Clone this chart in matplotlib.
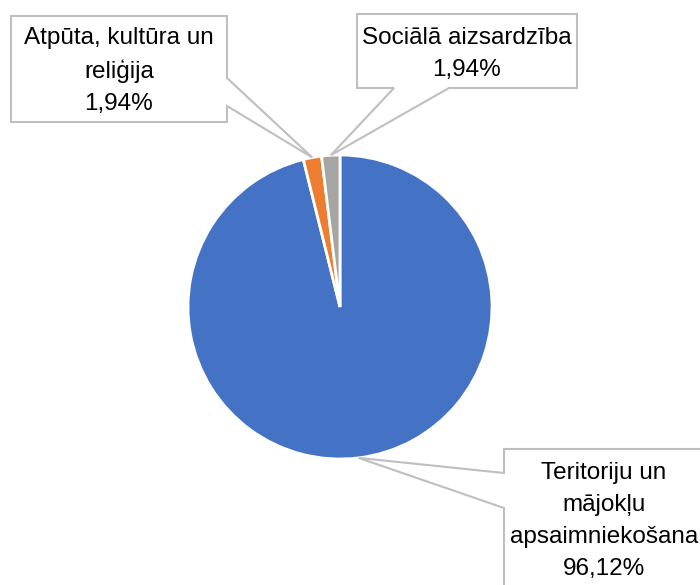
import matplotlib
matplotlib.use("Agg")
import matplotlib.pyplot as plt
from matplotlib.patches import Polygon
import numpy as np

categories = ["Teritoriju un\nmājokļu\napsaimniekošana", "Atpūta, kultūra un\nreliģija", "Sociālā aizsardzība"]
values = [96.12, 1.94, 1.94]
colors = ["#4472C4", "#ED7D31", "#A5A5A5"]

W, H = 700, 585
fig = plt.figure(figsize=(7, 5.85), dpi=100)
ax = fig.add_axes([0, 0, 1, 1])

cx, cy_px, r = 340, 307, 152
cy = H - cy_px
wedges, _ = ax.pie(values, colors=colors, startangle=90, counterclock=False,
                   center=(cx, cy), radius=r,
                   wedgeprops=dict(edgecolor="white", linewidth=2))
ax.set_xlim(0, W)
ax.set_ylim(0, H)
ax.set_aspect("equal")
ax.axis("off")

def anchor(w):
    th = np.deg2rad((w.theta1 + w.theta2) / 2)
    return (cx + r * np.cos(th), cy + r * np.sin(th))

def fmt(v):
    return f"{v:.2f}%".replace(".", ",")

def P(x, y):
    return (x, H - y)

edge = "#BFBFBF"
a0 = anchor(wedges[0]); a1 = anchor(wedges[1]); a2 = anchor(wedges[2])

poly1 = [P(11, 16), P(227, 16), P(227, 78), a1, P(227, 106), P(227, 122), P(11, 122)]
poly2 = [P(357, 14), P(577, 14), P(577, 88), P(449, 88), a2, P(394, 88), P(357, 88)]
poly3 = [P(504, 449), P(720, 449), P(720, 600), P(504, 600), P(504, 508), a0, P(504, 473)]

for poly in (poly1, poly2, poly3):
    ax.add_patch(Polygon(poly, closed=True, facecolor="white", edgecolor=edge,
                         linewidth=1.5, zorder=5, clip_on=False))

font = dict(family=["Liberation Sans", "DejaVu Sans"], fontsize=17.5, color="#000000",
            ha="center", va="center", zorder=6)
ax.text(*P(119, 71), f"{categories[1]}\n{fmt(values[1])}", linespacing=1.55, **font)
ax.text(*P(467, 54), f"{categories[2]}\n{fmt(values[2])}", linespacing=1.55, **font)
ax.text(*P(604, 521), f"{categories[0]}\n{fmt(values[0])}", linespacing=1.6, **font)

fig.savefig("out.png", dpi=100)
